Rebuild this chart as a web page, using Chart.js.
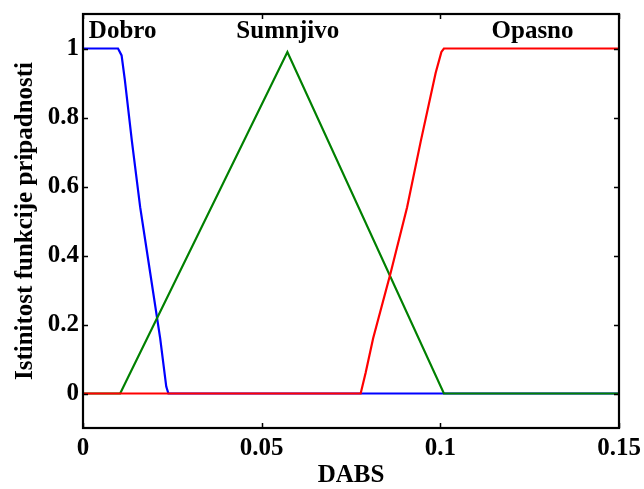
<!DOCTYPE html>
<html>
<head>
<meta charset="utf-8">
<script src="https://cdn.jsdelivr.net/npm/chart.js@4/dist/chart.umd.min.js"></script>
<style>
html,body{margin:0;padding:0;background:#fff;}
#wrap{width:644px;height:489px;position:relative;}
</style>
</head>
<body>
<div id="wrap"><canvas id="c" width="644" height="489"></canvas></div>
<script>
// ---- data ----
const xTicks = [0, 0.05, 0.1, 0.15];
const xTickLabels = ['0', '0.05', '0.1', '0.15'];
const yTicks = [0, 0.2, 0.4, 0.6, 0.8, 1];
const yTickLabels = ['0', '0.2', '0.4', '0.6', '0.8', '1'];

const dobroX = [0, 0.0098, 0.0108, 0.0117, 0.0137, 0.016, 0.0188, 0.0216, 0.0233, 0.0239, 0.15];
const dobroY = [1, 1, 0.98, 0.91, 0.73, 0.54, 0.35, 0.16, 0.02, 0, 0];

const sumnjivoX = [0, 0.0104, 0.0572, 0.101, 0.15];
const sumnjivoY = [0, 0, 0.99, 0, 0];

const opasnoX = [0, 0.0777, 0.0791, 0.0812, 0.0861, 0.0907, 0.0945, 0.0987, 0.1003, 0.101, 0.15];
const opasnoY = [0, 0, 0.06, 0.16, 0.35, 0.54, 0.73, 0.93, 0.99, 1, 1];

const seriesNames = ['Dobro', 'Sumnjivo', 'Opasno'];
const labelX = [0.0111, 0.0573, 0.1258];
const labelY = [1.03, 1.03, 1.03];

const xTitle = 'DABS';
const yTitle = 'Istinitost funkcije pripadnosti';

const FONT = '"Liberation Serif", "Times New Roman", serif';

function pts(xs, ys) { return xs.map((x, i) => ({x: x, y: ys[i]})); }

const frameTicks = {
  id: 'frameTicks',
  afterDatasetsDraw(chart) {
    const {ctx, chartArea: a, scales} = chart;
    const xs = scales.x, ys = scales.y;
    ctx.save();
    ctx.strokeStyle = '#000';
    ctx.lineWidth = 1.5;
    const tl = 5;
    ctx.beginPath();
    xTicks.forEach(v => {
      const p = Math.round(xs.getPixelForValue(v)) + 0.5;
      ctx.moveTo(p, a.bottom); ctx.lineTo(p, a.bottom - tl);
      ctx.moveTo(p, a.top); ctx.lineTo(p, a.top + tl);
    });
    yTicks.forEach(v => {
      const p = Math.round(ys.getPixelForValue(v)) + 0.5;
      ctx.moveTo(a.left, p); ctx.lineTo(a.left + tl, p);
      ctx.moveTo(a.right, p); ctx.lineTo(a.right - tl, p);
    });
    ctx.stroke();
    ctx.lineWidth = 2.2;
    ctx.strokeRect(a.left, a.top, a.right - a.left, a.bottom - a.top);
    // series name labels
    ctx.fillStyle = '#000';
    ctx.font = 'bold 25px ' + FONT;
    ctx.textAlign = 'center';
    ctx.textBaseline = 'alphabetic';
    seriesNames.forEach((n, i) => {
      ctx.fillText(n, xs.getPixelForValue(labelX[i]), ys.getPixelForValue(labelY[i]));
    });
    ctx.restore();
  }
};

new Chart(document.getElementById('c'), {
  type: 'scatter',
  data: {
    datasets: [
      {label: 'Opasno', data: pts(opasnoX, opasnoY), borderColor: '#ff0000', order: 1},
      {label: 'Sumnjivo', data: pts(sumnjivoX, sumnjivoY), borderColor: '#008000', order: 2},
      {label: 'Dobro', data: pts(dobroX, dobroY), borderColor: '#0000ff', order: 3}
    ].map(d => Object.assign(d, {showLine: true, pointRadius: 0, borderWidth: 2.2, tension: 0, fill: false, backgroundColor: d.borderColor}))
  },
  options: {
    responsive: false,
    animation: false,
    devicePixelRatio: 1,
    layout: {padding: {left: 0, right: 25, top: 14, bottom: 0}},
    plugins: {legend: {display: false}, tooltip: {enabled: false}},
    scales: {
      x: {
        type: 'linear', min: 0, max: 0.15,
        afterBuildTicks: s => { s.ticks = xTicks.map(v => ({value: v})); },
        afterFit: s => { s.height = 61; s.paddingLeft = 0; s.paddingRight = 0; },
        grid: {display: false, drawTicks: false},
        border: {display: false},
        ticks: {
          color: '#000', padding: 6, maxRotation: 0, autoSkip: false,
          font: {family: FONT, size: 25, weight: 'bold'},
          callback: (v, i) => xTickLabels[i]
        },
        title: {display: true, text: xTitle, color: '#000', padding: {top: 0, bottom: -2},
          font: {family: FONT, size: 25, weight: 'bold'}}
      },
      y: {
        type: 'linear', min: -0.1, max: 1.1,
        afterBuildTicks: s => { s.ticks = yTicks.map(v => ({value: v})); },
        afterFit: s => { s.width = 83; s.paddingTop = 0; s.paddingBottom = 0; },
        grid: {display: false, drawTicks: false},
        border: {display: false},
        ticks: {
          color: '#000', padding: 4, autoSkip: false,
          font: {family: FONT, size: 25, weight: 'bold'},
          callback: (v, i) => yTickLabels[i]
        },
        title: {display: true, text: yTitle, color: '#000', padding: {top: 11, bottom: 0},
          font: {family: FONT, size: 25, weight: 'bold'}}
      }
    }
  },
  plugins: [frameTicks]
});
</script>
</body>
</html>
